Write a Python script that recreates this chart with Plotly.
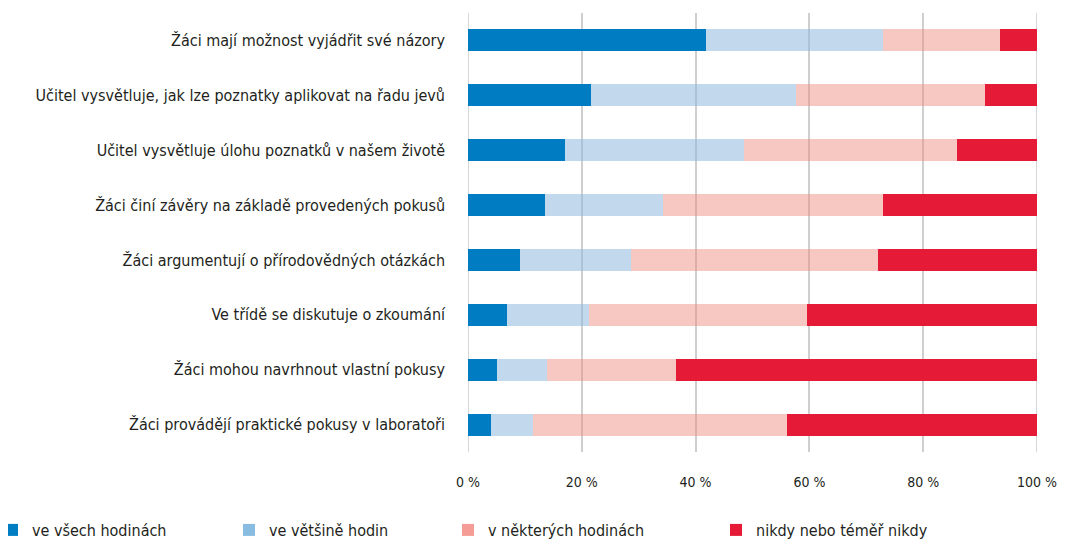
import plotly.graph_objects as go

categories = [
    "Žáci mají možnost vyjádřit své názory",
    "Učitel vysvětluje, jak lze poznatky aplikovat na řadu jevů",
    "Učitel vysvětluje úlohu poznatků v našem životě",
    "Žáci činí závěry na základě provedených pokusů",
    "Žáci argumentují o přírodovědných otázkách",
    "Ve třídě se diskutuje o zkoumání",
    "Žáci mohou navrhnout vlastní pokusy",
    "Žáci provádějí praktické pokusy v laboratoři",
]
series_names = ["ve všech hodinách", "ve většině hodin", "v některých hodinách", "nikdy nebo téměř nikdy"]
ve_vsech = [41.9, 21.7, 17.1, 13.5, 9.2, 6.9, 5.1, 4.0]
ve_vetsine = [31.1, 35.9, 31.4, 20.8, 19.5, 14.3, 8.8, 7.4]
v_nekterych = [20.5, 33.2, 37.5, 38.7, 43.4, 38.4, 22.6, 44.6]
nikdy = [6.5, 9.2, 14.0, 27.0, 27.9, 40.4, 63.5, 44.0]
tick_vals = [0, 20, 40, 60, 80, 100]
tick_text = ["0 %", "20 %", "40 %", "60 %", "80 %", "100 %"]

series = [ve_vsech, ve_vetsine, v_nekterych, nikdy]
bar_colors = ["#007cc3", "rgba(144,184,222,0.55)", "rgba(238,130,120,0.45)", "#e41a37"]
legend_colors = ["#007cc3", "#88bce0", "#f59c97", "#e41a37"]

FONT = "DejaVu Sans Condensed, Liberation Sans Narrow, sans-serif"

# page has an 8px body margin, so the figure is shifted by 8px and sized to fit the window
OFF = 8
W, H = 1067 - OFF, 546 - OFF
ML, MT = 468 - OFF, 13 - OFF
MR = W - (1037 - OFF)
MB = H - (452 - OFF)
PW = W - ML - MR
PH = H - MT - MB

fig = go.Figure()
for name, vals, c in zip(series_names, series, bar_colors):
    fig.add_trace(go.Bar(
        y=categories, x=vals, orientation="h", name=name,
        marker=dict(color=c, line=dict(width=0)),
        width=0.4, showlegend=False, hoverinfo="x+y",
    ))

legend_ids = ["legend", "legend2", "legend3", "legend4"]
swatch_left_px = [9, 246, 465, 733]
for name, c, lid in zip(series_names, legend_colors, legend_ids):
    fig.add_trace(go.Bar(
        y=[None], x=[None], orientation="h", name=name, legend=lid,
        marker=dict(color=c, line=dict(width=0)), showlegend=True,
    ))

legend_y = -(530 - OFF - (H - MB)) / PH
legend_layouts = {}
for lid, sl in zip(legend_ids, swatch_left_px):
    legend_layouts[lid] = dict(
        orientation="h", x=(sl - OFF - 17 - ML) / PW, xanchor="left",
        y=legend_y, yanchor="middle",
        font=dict(family=FONT, size=16, color="#231f20"),
        itemwidth=30, bgcolor="rgba(0,0,0,0)",
    )

# vertical gridlines at 0 % and 100 % (edges), which Plotly omits
for v in (tick_vals[0], tick_vals[-1]):
    fig.add_shape(type="line", xref="x", yref="paper", x0=v, x1=v, y0=0, y1=1,
                  line=dict(color="#cfcfcf", width=1.7), layer="below")

fig.update_layout(
    barmode="stack",
    width=W, height=H,
    margin=dict(l=ML, r=MR, t=MT, b=MB, autoexpand=False),
    paper_bgcolor="white", plot_bgcolor="white",
    font=dict(family=FONT, size=16, color="#231f20"),
    xaxis=dict(
        range=[0, 100], tickvals=tick_vals, ticktext=tick_text,
        tickfont=dict(size=14),
        showgrid=True, gridcolor="#cfcfcf", gridwidth=1.7,
        zeroline=False, showline=False, ticks="", ticklabelstandoff=20,
        ticklabelshift=0,
        layer="below traces", fixedrange=True, automargin=False,
    ),
    yaxis=dict(
        categoryorder="array", categoryarray=categories, autorange="reversed",
        showgrid=False, zeroline=False, ticks="", ticklabelstandoff=22,
        fixedrange=True, automargin=False,
    ),
    bargap=0.6,
    **legend_layouts,
)

fig.write_html("out.html")
